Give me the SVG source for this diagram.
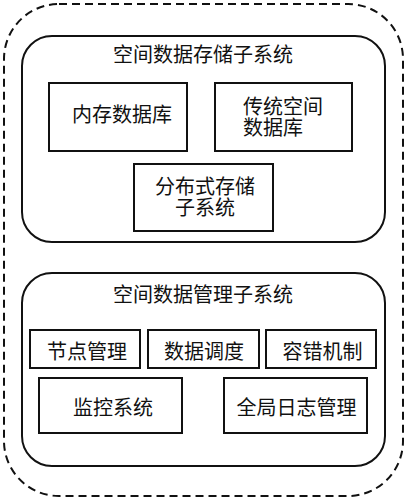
<svg xmlns="http://www.w3.org/2000/svg" width="408" height="500" viewBox="0 0 408 500">
<style>
.frame{fill:none;stroke:#111;stroke-width:2}
.dash{fill:none;stroke:#111;stroke-width:2;stroke-dasharray:8 5}
.box{fill:#fff;stroke:#111;stroke-width:2}
text{font-family:"Liberation Serif","Noto Sans CJK SC",serif;font-size:20px;fill:#111;dominant-baseline:central}
.c{text-anchor:middle}
</style>
<rect width="408" height="500" fill="#fff"/>
<g id="system">
<rect class="dash" x="4" y="4" width="399" height="492" rx="55" ry="55"/>
</g>
<g id="storage-subsystem">
<rect class="frame" x="22" y="36" width="363" height="206" rx="30" ry="30"/>
<text class="c" x="203" y="55">空间数据存储子系统</text>
</g>
<g id="memory-db">
<rect class="box" x="49" y="83" width="138" height="68"/>
<text class="c" x="122" y="114.5">内存数据库</text>
</g>
<g id="traditional-db">
<rect class="box" x="215" y="83" width="137" height="68"/>
<text x="243" y="106.5">传统空间</text>
<text x="243" y="127.5">数据库</text>
</g>
<g id="distributed-storage">
<rect class="box" x="134" y="164" width="139" height="67"/>
<text class="c" x="205" y="187">分布式存储</text>
<text class="c" x="205" y="208">子系统</text>
</g>
<g id="management-subsystem">
<rect class="frame" x="22" y="273" width="363" height="193" rx="30" ry="30"/>
<text class="c" x="203" y="295">空间数据管理子系统</text>
</g>
<g id="node-mgmt">
<rect class="box" x="30" y="330" width="110" height="38"/>
<text class="c" x="87" y="352">节点管理</text>
</g>
<g id="data-scheduling">
<rect class="box" x="148" y="330" width="111" height="38"/>
<text class="c" x="204" y="352">数据调度</text>
</g>
<g id="fault-tolerance">
<rect class="box" x="266" y="330" width="110" height="38"/>
<text class="c" x="322.5" y="352">容错机制</text>
</g>
<g id="monitoring">
<rect class="box" x="39" y="378" width="143" height="55"/>
<text class="c" x="113" y="407.5">监控系统</text>
</g>
<g id="global-log">
<rect class="box" x="224" y="378" width="143" height="55"/>
<text class="c" x="296.5" y="408">全局日志管理</text>
</g>
<g id="connectors"></g>
</svg>
